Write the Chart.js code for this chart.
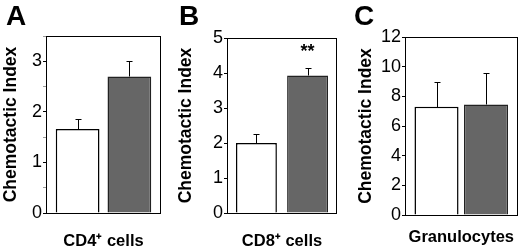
<!DOCTYPE html>
<html lang="en">
<head>
<meta charset="UTF-8">
<title>Chemotactic Index</title>
<script src="https://cdn.jsdelivr.net/npm/chart.js"></script>
<style>
    body {
        margin: 0;
        background: #ffffff;
        font-family: "Liberation Sans", Arial, sans-serif;
    }
    #wrap { position: relative; width: 520px; height: 250px; overflow: hidden; }
    canvas { position: absolute; top: 0; }
    .letter {
        position: absolute;
        top: 2px;
        font-weight: bold;
        font-size: 28px;
        line-height: 1;
        color: #000;
    }
</style>
</head>
<body>
<div id="wrap">
    <canvas id="chart0" style="left:0px" width="175" height="250"></canvas>
    <canvas id="chart1" style="left:175px" width="170" height="250"></canvas>
    <canvas id="chart2" style="left:345px" width="175" height="250"></canvas>
    <div class="letter" style="left:6px">A</div>
    <div class="letter" style="left:179px">B</div>
    <div class="letter" style="left:354px">C</div>
</div>

<script>
// data
const panelLetters = ["A", "B", "C"];
const categories = ["CD4\u207A cells", "CD8\u207A cells", "Granulocytes"];
const control = [1.66, 2.0, 7.3];
const controlErr = [0.19, 0.25, 1.7];
const treated = [2.7, 3.93, 7.45];
const treatedErr = [0.3, 0.22, 2.15];
const significance = ["", "**", ""];
const yMax = [3.5, 5, 12];
const yMinorStep = [0.5, 0.5, 1];
const yLabelStep = [1, 1, 2];

// panel geometry (px)
const layout = [
    { axisW: 46, padTop: 36, padRight: 14, xH: 37, labelPad: 11, titlePad: 1,  cat: 0.9,  bar: 0.845 },
    { axisW: 52, padTop: 38, padRight: 8,  xH: 37, labelPad: 11, titlePad: 1,  cat: 0.93, bar: 0.8 },
    { axisW: 60, padTop: 37, padRight: 2,  xH: 35, labelPad: 5,  titlePad: 11, cat: 0.88, bar: 0.89 }
];

const FONT = "'Liberation Sans', Arial, sans-serif";

// box around plot area, error bars and stars
const extras = {
    id: "extras",
    afterDatasetsDraw(chart) {
        const ctx = chart.ctx;
        const y = chart.scales.y;
        ctx.save();
        ctx.strokeStyle = "#000";
        ctx.lineWidth = 1;
        chart.data.datasets.forEach((ds, i) => {
            const bar = chart.getDatasetMeta(i).data[0];
            const x = Math.round(bar.x) + 0.5;
            const yTop = Math.round(y.getPixelForValue(ds.data[0])) + 0.5;
            const yErr = Math.round(y.getPixelForValue(ds.data[0] + ds.errors[0])) + 0.5;
            ctx.beginPath();
            ctx.moveTo(x, yTop);
            ctx.lineTo(x, yErr);
            ctx.moveTo(x - 3, yErr);
            ctx.lineTo(x + 3, yErr);
            ctx.stroke();
            if (ds.star) {
                ctx.fillStyle = "#000";
                ctx.font = "bold 18px " + FONT;
                ctx.textAlign = "center";
                ctx.textBaseline = "middle";
                ctx.fillText(ds.star, bar.x, yErr - 16);
            }
        });
        const a = chart.chartArea;
        ctx.strokeRect(Math.round(a.left) + 0.5, Math.round(a.top) + 0.5,
            Math.round(a.right - a.left) - 1, Math.round(a.bottom - a.top));
        ctx.restore();
    }
};

function makeChart(i) {
    const L = layout[i];
    new Chart(document.getElementById("chart" + i), {
        type: "bar",
        data: {
            labels: [categories[i]],
            datasets: [
                {
                    label: "Control",
                    data: [control[i]],
                    errors: [controlErr[i]],
                    backgroundColor: "#ffffff",
                    borderColor: "#000000",
                    borderWidth: 1.5,
                    categoryPercentage: L.cat,
                    barPercentage: L.bar
                },
                {
                    label: "Treated",
                    data: [treated[i]],
                    errors: [treatedErr[i]],
                    star: significance[i],
                    backgroundColor: "#666666",
                    borderColor: "#222222",
                    borderWidth: 1.5,
                    categoryPercentage: L.cat,
                    barPercentage: L.bar
                }
            ]
        },
        options: {
            responsive: false,
            animation: false,
            layout: { padding: { top: L.padTop, right: L.padRight, left: 0, bottom: 0 } },
            plugins: {
                legend: { display: false },
                tooltip: { enabled: false }
            },
            scales: {
                x: {
                    grid: { display: false },
                    border: { display: false },
                    ticks: {
                        color: "#000",
                        padding: L.labelPad,
                        font: { family: FONT, size: 16.5, weight: "bold" }
                    },
                    afterFit: s => { s.height = L.xH; }
                },
                y: {
                    min: 0,
                    max: yMax[i],
                    border: { display: false },
                    grid: {
                        drawOnChartArea: false,
                        drawTicks: true,
                        tickLength: 3,
                        tickColor: c => (c.tick && c.tick.value % yLabelStep[i] === 0) ? "#000" : "#999"
                    },
                    ticks: {
                        stepSize: yMinorStep[i],
                        padding: 1,
                        color: "#000",
                        font: { family: FONT, size: 18 },
                        callback: v => (v % yLabelStep[i] === 0) ? v : ""
                    },
                    title: {
                        display: true,
                        text: "Chemotactic Index",
                        color: "#000",
                        padding: { top: L.titlePad, bottom: 0 },
                        font: { family: FONT, size: 17.5, weight: "bold" }
                    },
                    afterFit: s => { s.width = L.axisW; }
                }
            }
        },
        plugins: [extras]
    });
}

categories.forEach((c, i) => makeChart(i));
</script>
</body>
</html>
